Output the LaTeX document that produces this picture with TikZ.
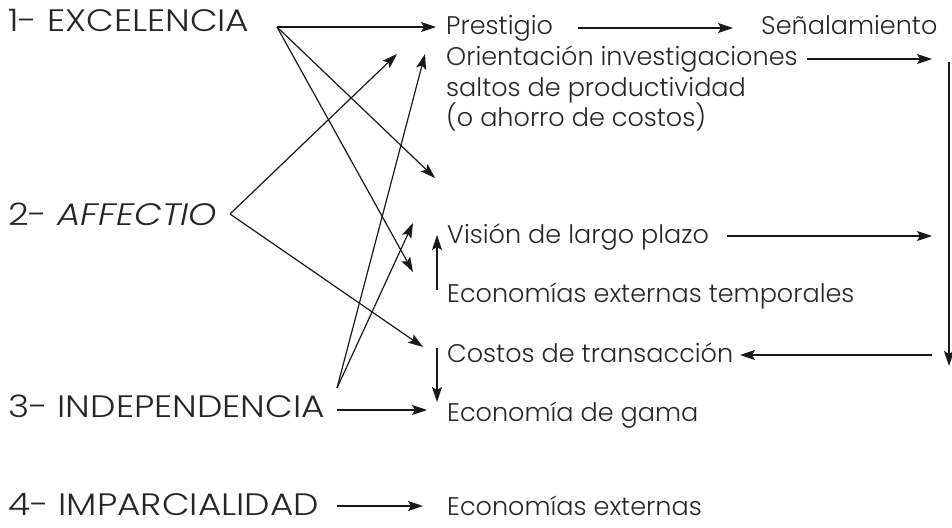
\documentclass[tikz,border=0pt]{standalone}
\usepackage{fontspec}
\setmainfont{Poppins}[UprightFont=* Light, ItalicFont=* Light Italic]
\newfontfamily\wideface{Poppins}[UprightFont=* Light, ItalicFont=* Light Italic, FakeStretch=1.16]
\usetikzlibrary{arrows.meta}
\begin{document}
\begin{tikzpicture}[x=1pt,y=-1pt,
  ar/.style={-{Stealth[length=15pt,width=10pt,inset=3pt]}, line width=1.2pt, color=black!90},
  big/.style={anchor=base west, font=\wideface\fontsize{31}{33}\selectfont, inner sep=0pt, text=black!85},
  sm/.style={anchor=base west, font=\fontsize{25.5}{28}\selectfont, inner sep=0pt, text=black!85}]
\useasboundingbox (0,0) rectangle (952,527);
% left labels
\node[big] (exc) at (8,32) {1- EXCELENCIA};
\node[big] (aff) at (8,225) {2- \textit{AFFECTIO}};
\node[big] (ind) at (8,417) {3- INDEPENDENCIA};
\node[big] (imp) at (8,515) {4- IMPARCIALIDAD};
% right labels
\node[sm] (pre) at (446,35) {Prestigio};
\node[sm] (sen) at (761,35) {Señalamiento};
\node[sm] (ori) at (446,66) {Orientación investigaciones};
\node[sm] (sal) at (446,96) {saltos de productividad};
\node[sm] (aho) at (446,126) {(o ahorro de costos)};
\node[sm] (vis) at (447,243) {Visión de largo plazo};
\node[sm] (eet) at (447,302) {Economías externas temporales};
\node[sm] (cos) at (447,362) {Costos de transacción};
\node[sm] (gam) at (447,421) {Economía de gama};
\node[sm] (eco) at (447,515) {Economías externas};
% connector points
\coordinate (excO) at (277,27);
\coordinate (affO) at (230,214);
\coordinate (indO) at (337,388);
\coordinate (indH) at (337,410);
\coordinate (impO) at (337,506);
\coordinate (tPre) at (436,27);
\coordinate (tMid) at (435,178);
\coordinate (tVisLow) at (413,272);
\coordinate (tOriA) at (397,54);
\coordinate (tOriB) at (425,54);
\coordinate (tCos) at (423,347);
\coordinate (tVis) at (413,223);
\coordinate (tGam) at (427,410);
\coordinate (tEco) at (423,506);
\coordinate (upS) at (437,290);
\coordinate (upE) at (437,235);
\coordinate (dnS) at (437,348);
\coordinate (dnE) at (437,402);
\coordinate (preE) at (578,28);
\coordinate (senW) at (733,28);
\coordinate (oriE) at (807,59);
\coordinate (oriT) at (932,59);
\coordinate (visE) at (727,236);
\coordinate (visT) at (932,236);
\coordinate (cosS) at (932,355);
\coordinate (cosT) at (740,355);
\coordinate (vTop) at (949,62);
\coordinate (vBot) at (949,366);
% arrows
\draw[ar] (excO) -- (tPre);
\draw[ar] (excO) -- (tMid);
\draw[ar] (excO) -- (tVisLow);
\draw[ar] (affO) -- (tOriA);
\draw[ar] (affO) -- (tCos);
\draw[ar] (indO) -- (tOriB);
\draw[ar] (indO) -- (tVis);
\draw[ar] (indH) -- (tGam);
\draw[ar] (impO) -- (tEco);
\draw[ar] (upS) -- (upE);
\draw[ar] (dnS) -- (dnE);
\draw[ar] (preE) -- (senW);
\draw[ar] (oriE) -- (oriT);
\draw[ar] (visE) -- (visT);
\draw[ar] (cosS) -- (cosT);
\draw[ar] (vTop) -- (vBot);
\end{tikzpicture}
\end{document}
